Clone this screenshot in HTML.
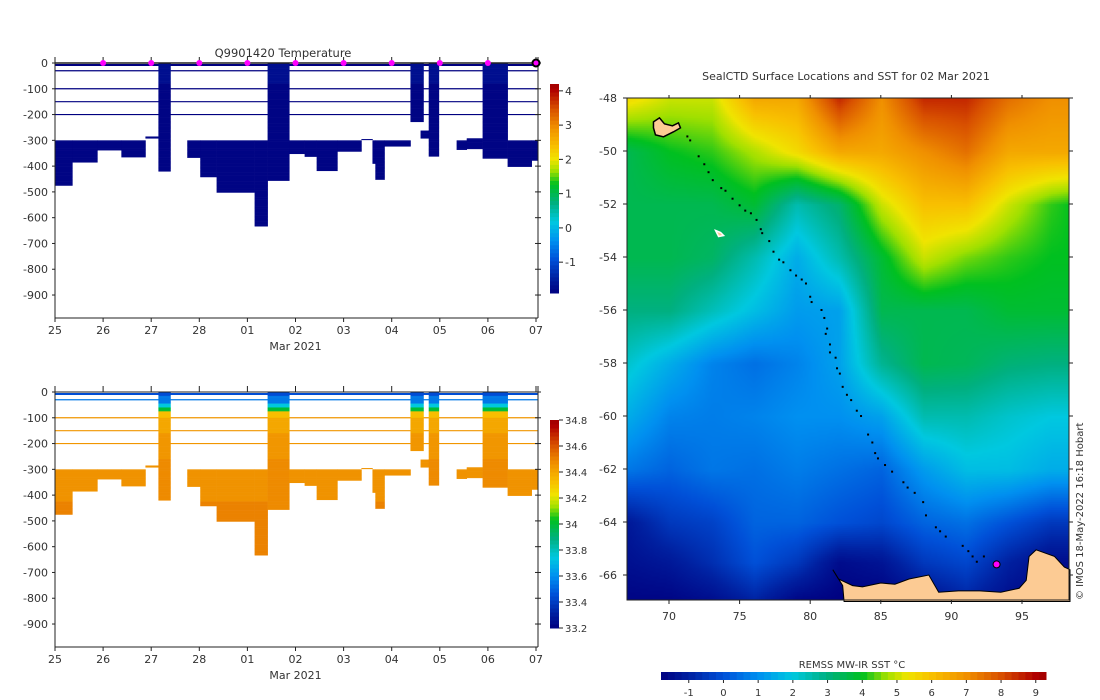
<!DOCTYPE html>
<html><head><meta charset="utf-8">
<style>
html,body{margin:0;padding:0;background:#fff;}
#wrap{position:relative;width:1100px;height:700px;overflow:hidden;font-family:"DejaVu Sans","Liberation Sans",sans-serif;}
#sst{position:absolute;left:627px;top:98px;}
svg{position:absolute;left:0;top:0;}
</style></head>
<body>
<div id="wrap">
<canvas id="sst" width="442" height="502"></canvas>
<svg id="svg" width="1100" height="700" xmlns="http://www.w3.org/2000/svg" font-family="DejaVu Sans, Liberation Sans, sans-serif" font-size="11" fill="#333"></svg>
</div>
<script>
// ---- section data (days since 25 Feb) ----
const colStart = [0,0.36,0.88,1.38,1.88,2.15,2.75,3.02,3.36,4.15,4.42,4.87,5.19,5.44,5.87,6.37,6.6,6.66,6.85,7.39,7.6,7.77,8.35,8.56,8.89,9.41,9.91];
const colEnd   = [0.36,0.88,1.38,1.88,2.15,2.4,3.02,3.36,4.15,4.42,4.87,5.19,5.44,5.87,6.37,6.6,6.66,6.85,7.39,7.66,7.77,7.98,8.56,8.89,9.41,9.91,10.03];
const colTop   = [300,300,300,300,285,0,300,300,300,300,0,300,300,300,300,295,300,300,300,0,262,0,300,292,0,300,300];
const colBot   = [475,385,338,365,292,420,367,442,502,633,456,352,363,418,343,298,390,452,323,228,292,362,336,333,370,402,378];
const lineDepths = [8,30,100,150,200];
const dayLabels = ["25","26","27","28","01","02","03","04","05","06","07"];
const depthTicks = [0,100,200,300,400,500,600,700,800,900];
const tempTicks = [-1,0,1,2,3,4];
const salTicks = ["33.2","33.4","33.6","33.8","34","34.2","34.4","34.6","34.8"];
const surfDays = [1,2,3,4,5,6,7,8,9];
// ---- map data ----
const gridLon = [67,70,73,76,79,82,85,88,91,94,97,98.5];
const gridLat = [-48,-50,-52,-54,-56,-58,-60,-62,-64,-65.5,-67];
const sstGrid = [
[5.5,5,5,6.5,6.5,8.5,7,8.5,8.5,7.5,7,7],
[3.5,4,4.2,4.8,5.5,6.5,6.5,7,7.5,6.5,6.5,6.5],
[3.5,3.5,3.5,3.8,2.5,3.2,5,6,6,5,4.2,4],
[3.5,3.5,3.3,2.5,1.5,2.5,3.8,5,4.5,4.2,4,4],
[3,3,2.4,1.8,1.2,1.3,3.5,3.5,3.5,3.8,3.8,3.8],
[2.2,1.5,0.8,0.5,0.8,1.3,2.8,3.5,3.4,3.1,3,3],
[1.5,0.8,0.7,0.8,1,1,1.3,2.5,2.5,2.2,2,2],
[0.6,0.3,0.6,0.5,0.7,0.5,0.3,1.2,1.8,1.8,1.5,1.5],
[-1.2,-0.5,-0.3,0.3,0.3,0,-0.2,0.3,0.5,0,-0.5,-0.5],
[-1.4,-1.2,-0.7,0,-0.5,-1.5,-1.3,-0.5,-0.2,-1,-1.5,-1.5],
[-1.7,-1.7,-1.5,-1,-1.7,-1.8,-1.8,-1.5,-1,-1.5,-1.7,-1.7]];
const trackLon = [71.3,71.5,72.1,72.5,72.8,73.1,73.7,74.0,74.5,75.0,75.4,75.8,76.2,76.5,76.6,77.1,77.4,77.8,78.1,78.6,79.0,79.4,79.7,80.0,80.1,80.8,81.0,81.2,81.1,81.4,81.4,81.8,81.9,82.1,82.3,82.6,82.9,83.3,83.6,84.1,84.4,84.6,84.8,85.3,85.8,86.6,86.9,87.4,88.0,88.2,88.9,89.2,89.6,90.8,91.2,91.5,91.8,92.3];
const trackLat = [-49.45,-49.6,-50.2,-50.5,-50.8,-51.1,-51.4,-51.5,-51.8,-52.05,-52.25,-52.35,-52.6,-52.95,-53.1,-53.4,-53.8,-54.1,-54.2,-54.5,-54.7,-54.85,-55.0,-55.5,-55.7,-56.0,-56.3,-56.7,-56.9,-57.3,-57.6,-57.8,-58.2,-58.4,-58.9,-59.2,-59.4,-59.8,-60.0,-60.7,-61.0,-61.4,-61.6,-61.85,-62.1,-62.5,-62.7,-62.9,-63.25,-63.75,-64.2,-64.35,-64.55,-64.9,-65.1,-65.3,-65.5,-65.3];
const landLon = [81.6,82.0,83.0,83.7,85.0,86.0,87.0,88.4,89.1,90.5,92.0,93.5,94.8,95.3,95.5,96.0,97.3,98.0,98.4,98.4,82.4,82.3];
const landLat = [-65.8,-66.15,-66.4,-66.45,-66.3,-66.35,-66.15,-66.0,-66.65,-66.6,-66.6,-66.65,-66.5,-66.2,-65.3,-65.05,-65.3,-65.7,-65.8,-67,-67,-66.4];
const lonTicks = [70,75,80,85,90,95];
const latTicks = [-48,-50,-52,-54,-56,-58,-60,-62,-64,-66];
const sstTicks = [-1,0,1,2,3,4,5,6,7,8,9];

const stops = [[0,[0,0,128]],[0.072,[0,32,160]],[0.162,[0,80,216]],[0.252,[0,144,240]],[0.342,[0,200,224]],[0.432,[0,176,128]],[0.523,[0,192,32]],[0.585,[160,224,0]],[0.64,[240,228,0]],[0.703,[248,192,0]],[0.793,[240,144,0]],[0.883,[216,80,0]],[0.973,[176,0,0]],[1,[160,0,0]]];
function cmapRGB(t){t=Math.max(0,Math.min(1,t));for(let i=1;i<stops.length;i++){if(t<=stops[i][0]){const a=stops[i-1],b=stops[i];const f=(t-a[0])/(b[0]-a[0]);return a[1].map((v,k)=>Math.round(v+(b[1][k]-v)*f));}}return stops[stops.length-1][1];}
function cmap(t){const c=cmapRGB(t);return `rgb(${c[0]},${c[1]},${c[2]})`;}

const svg=document.getElementById('svg');const NS='http://www.w3.org/2000/svg';
function el(tag,attrs,parent){const e=document.createElementNS(NS,tag);for(const k in attrs)e.setAttribute(k,attrs[k]);(parent||svg).appendChild(e);return e;}
function txt(x,y,s,anchor,parent,size){const t=el('text',{x:x,y:y,'text-anchor':anchor||'middle','font-size':size||11},parent);t.textContent=s;return t;}

// ---- sections ----
const xSec=d=>55+d*48.1;
function salAt(m,full){if(!full)return m>420?34.5:34.46;if(m<15)return 33.45;if(m<45)return 33.55;if(m<60)return 33.75;if(m<75)return 34.0;if(m<100)return 34.33;if(m<160)return 34.4;if(m<260)return 34.45;return 34.48;}
function drawSection(y0,kind,name){
  const g=el('g',{});
  
  
  const yS=m=>y0+m*0.2578;
  const tNorm=v=>(v+1.9)/6.1, sNorm=v=>(v-33.2)/1.6;
  lineDepths.forEach((d,i)=>{
    const c=kind==='T'?'#000080':cmap(sNorm(d<20?33.45:d<50?33.55:34.45));
    const l=el('line',{x1:xSec(0),x2:xSec(10.03),y1:yS(d),y2:yS(d),stroke:c,'stroke-width':i==0?2:1.2},g);
    
    
  });
  for(let i=0;i<colStart.length;i++){
    const full=colTop[i]===0;
    const cg=el('g',{},g);
    
    
    for(let m=colTop[i];m<colBot[i];m+=5){
      const mm=Math.min(m+5,colBot[i]);
      const c=kind==='T'?cmap(tNorm(full&&m<80?-1.7:-1.85)):cmap(sNorm(salAt(m,full)));
      el('rect',{x:xSec(colStart[i]),y:yS(m),width:xSec(colEnd[i])-xSec(colStart[i])+0.3,height:yS(mm)-yS(m)+0.3,fill:c},cg);
    }
  }
  const ax=el('g',{stroke:'#222','stroke-width':1,fill:'none'},g);
  
  
  el('line',{x1:55,x2:55,y1:y0-6,y2:y0+255},ax);
  el('line',{x1:55,x2:538,y1:y0+255,y2:y0+255},ax);
  el('line',{x1:538,x2:538,y1:y0-6,y2:y0+255},ax);
  el('line',{x1:55,x2:538,y1:y0,y2:y0,'stroke-width':kind==='T'?1.5:1},ax);
  depthTicks.forEach(d=>{
    el('line',{x1:52,x2:55,y1:yS(d),y2:yS(d)},ax);
    el('line',{x1:535,x2:541,y1:yS(d),y2:yS(d)},ax);
    const t=txt(48,yS(d)+4,d===0?'0':'-'+d,'end',g);
    
    
  });
  dayLabels.forEach((s,i)=>{
    el('line',{x1:xSec(i),x2:xSec(i),y1:y0+255,y2:y0+259},ax);
    el('line',{x1:xSec(i),x2:xSec(i),y1:y0-6,y2:y0},ax);
    const t=txt(xSec(i),y0+271,s,'middle',g);
    
    
  });
  const xt=txt(xSec(5),y0+287,'Mar 2021','middle',g);
  
  
  const cb=el('g',{},g);
  
  
  const top=kind==='T'?84:420, bot=kind==='T'?293:628;
  for(let k=0;k<52;k++){const t0=k/52;el('rect',{x:550,y:bot-(t0+1/52)*(bot-top),width:9,height:(bot-top)/52+0.5,fill:cmap(t0+0.5/52)},cb);}
  if(kind==='T'){tempTicks.forEach(v=>{const y=bot-tNorm(v)*(bot-top);el('line',{x1:559,x2:563,y1:y,y2:y,stroke:'#222'},cb);const t=txt(565,y+4,String(v),'start',cb);});}
  else{salTicks.forEach(s=>{const y=bot-sNorm(parseFloat(s))*(bot-top);el('line',{x1:559,x2:563,y1:y,y2:y,stroke:'#222'},cb);const t=txt(565,y+4,s,'start',cb,10);});}
}
drawSection(63,'T','temperature-section');
drawSection(392,'S','salinity-section');
const tt=txt(283,57,'Q9901420  Temperature','middle',svg,11.5);


surfDays.forEach(d=>{
  const c=el('circle',{cx:xSec(d),cy:63,r:3,fill:'#ff00ff'});
  
  
});
const cur=el('circle',{cx:xSec(10),cy:63,r:3.5,fill:'#ff00ff',stroke:'#000','stroke-width':2});



// ---- map ----
const lonX=lon=>669+(lon-70)*14.12;
const latY=lat=>98+(-48-lat)*26.5;
function idx(arr,v,desc){for(let i=0;i<arr.length-1;i++){const a=arr[i],b=arr[i+1];if(desc?(v<=a&&v>=b):(v>=a&&v<=b))return [i,(v-a)/(b-a)];}return v<(desc?arr[arr.length-1]:arr[0])?(desc?[arr.length-2,1]:[0,0]):(desc?[0,0]:[arr.length-2,1]);}
(function(){
  const cv=document.getElementById('sst');const ctx=cv.getContext('2d');
  const img=ctx.createImageData(442,502);
  for(let py=0;py<502;py+=2)for(let px=0;px<442;px+=2){
    const lon=(627+px-669)/14.12+70, lat=-48-(98+py-98)/26.5;
    const [i,fx]=idx(gridLon,lon,false), [j,fy]=idx(gridLat,lat,true);
    const v=(sstGrid[j][i]*(1-fx)+sstGrid[j][i+1]*fx)*(1-fy)+(sstGrid[j+1][i]*(1-fx)+sstGrid[j+1][i+1]*fx)*fy;
    const c=cmapRGB((v+1.8)/11.1);
    for(let dy=0;dy<2;dy++)for(let dx=0;dx<2;dx++){const o=((py+dy)*442+px+dx)*4;if(py+dy<502&&px+dx<442){img.data[o]=c[0];img.data[o+1]=c[1];img.data[o+2]=c[2];img.data[o+3]=255;}}
  }
  ctx.putImageData(img,0,0);
})();
const mg=el('g',{});


const land=el('polygon',{points:landLon.map((l,i)=>lonX(l)+','+latY(landLat[i])).join(' '),fill:'#fccb94',stroke:'#000','stroke-width':1},mg);


const kg=el('path',{d:`M${lonX(68.9)},${latY(-48.9)} l6,-4 l5,6 l8,2 l6,-3 l2,5 l-7,4 l-10,5 l-8,-2 l-2,-7 z`,fill:'#fccb94',stroke:'#000','stroke-width':1.5},mg);


const hi=el('path',{d:`M${lonX(73.3)},${latY(-53.0)} l5,2 l3,3 l-5,1 z`,fill:'#fccb94',stroke:'#fff','stroke-width':1.5},mg);


trackLon.forEach((l,i)=>{
  const d=el('rect',{x:lonX(l)-1,y:latY(trackLat[i])-1,width:2,height:2,fill:'#000'},mg);
  
  
});
const ds=el('circle',{cx:lonX(93.2),cy:latY(-65.6),r:3.5,fill:'#ff00ff',stroke:'#000','stroke-width':1},mg);


const fr=el('rect',{x:627,y:98,width:442,height:502,fill:'none',stroke:'#222','stroke-width':1},mg);


lonTicks.forEach(l=>{
  el('line',{x1:lonX(l),x2:lonX(l),y1:95,y2:98,stroke:'#222'},mg);
  el('line',{x1:lonX(l),x2:lonX(l),y1:600,y2:604,stroke:'#222'},mg);
  const t=txt(lonX(l),620,String(l),'middle',mg);
  
  
});
latTicks.forEach(l=>{
  el('line',{x1:623,x2:627,y1:latY(l),y2:latY(l),stroke:'#222'},mg);
  el('line',{x1:1069,x2:1073,y1:latY(l),y2:latY(l),stroke:'#222'},mg);
  const t=txt(617,latY(l)+4,String(l),'end',mg);
  
  
});
const mt=txt(846,80,'SealCTD Surface Locations and SST for 02 Mar 2021','middle',mg);


const cr=txt(0,0,'© IMOS 18-May-2022 16:18 Hobart','start',mg,10);
cr.setAttribute('transform','translate(1083,600) rotate(-90)');


const sx=v=>661+(v+1.8)*34.7;
const scb=el('g',{});


for(let k=0;k<56;k++){el('rect',{x:661+k*(385/56),y:672,width:385/56+0.5,height:8,fill:cmap((k+0.5)/56)},scb);}
sstTicks.forEach(v=>{
  el('line',{x1:sx(v),x2:sx(v),y1:680,y2:683,stroke:'#222'},scb);
  const t=txt(sx(v),696,String(v),'middle',scb,10);
  
  
});
const st=txt(852,668,'REMSS MW-IR SST °C','middle',scb,10);


</script>
</body></html>
